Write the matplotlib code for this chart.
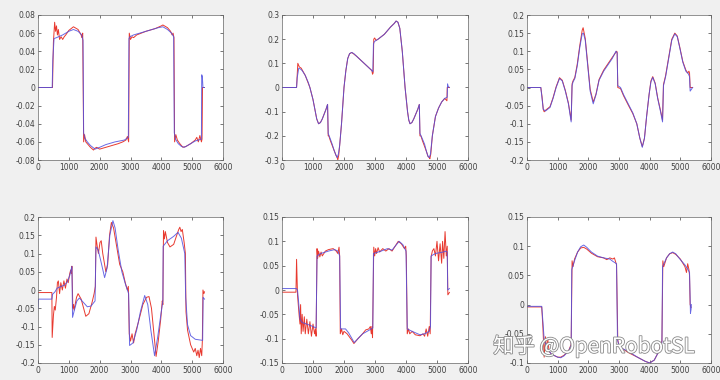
import numpy as np
import matplotlib
matplotlib.use("Agg")
import matplotlib.pyplot as plt
import matplotlib.patheffects as pe
from matplotlib.ticker import FuncFormatter

# --- subplot 1 ---
P1_XB = [0, 460, 480, 520, 600, 800, 1000, 1150, 1300, 1420, 1460, 1480, 1520, 1600, 1700, 1850, 2000, 2200,
         2500, 2800, 2930, 2950, 2980, 3100, 3300, 3600, 3900, 4050, 4200, 4330, 4400, 4420, 4460, 4550, 4650,
         4750, 4900, 5100, 5300, 5310, 5330, 5350, 5400]
P1_YB = [0, 0, 0.03, 0.054, 0.055, 0.058, 0.062, 0.064, 0.062, 0.058, 0.052, -0.05, -0.056, -0.06, -0.064,
         -0.068, -0.066, -0.063, -0.06, -0.058, -0.055, 0.054, 0.056, 0.058, 0.06, 0.063, 0.066, 0.067, 0.064,
         0.06, 0.056, -0.05, -0.057, -0.062, -0.065, -0.066, -0.063, -0.059, -0.057, 0.014, 0.012, 0.0, 0.0]
P1_XR = [0, 470, 500, 540, 570, 600, 630, 660, 700, 750, 800, 850, 900, 1000, 1150, 1300, 1400, 1420, 1450,
         1480, 1510, 1550, 1600, 1700, 1800, 1850, 1900, 2000, 2200, 2400, 2600, 2750, 2850, 2900, 2940, 2960,
         3000, 3050, 3100, 3200, 3500, 3800, 4000, 4050, 4200, 4300, 4350, 4380, 4410, 4430, 4470, 4520, 4600,
         4700, 4800, 4950, 5100, 5150, 5200, 5250, 5300, 5320, 5335, 5400]
P1_YR = [0, 0, 0.05, 0.072, 0.062, 0.068, 0.058, 0.064, 0.053, 0.056, 0.053, 0.056, 0.058, 0.063, 0.067,
         0.064, 0.058, 0.055, 0.06, -0.06, -0.052, -0.06, -0.062, -0.066, -0.069, -0.067, -0.066, -0.068,
         -0.066, -0.064, -0.062, -0.06, -0.058, -0.054, -0.06, 0.06, 0.053, 0.056, 0.055, 0.058, 0.062, 0.065,
         0.068, 0.069, 0.066, 0.062, 0.058, 0.06, 0.055, -0.06, -0.052, -0.058, -0.062, -0.066, -0.065, -0.062,
         -0.058, -0.055, -0.06, -0.053, -0.06, -0.057, 0.0, 0.0]

# --- subplot 2 ---
P2_XB = [0, 470, 490, 540, 600, 650, 750, 850, 900, 1000, 1060, 1120, 1180, 1240, 1300, 1420, 1470, 1490,
         1550, 1620, 1680, 1740, 1780, 1820, 1860, 1920, 2000, 2060, 2120, 2180, 2250, 2320, 2400, 2650, 2900,
         2930, 2950, 2980, 3100, 3300, 3500, 3620, 3680, 3740, 3800, 3880, 3970, 4050, 4090, 4130, 4190, 4250,
         4380, 4430, 4450, 4520, 4600, 4660, 4710, 4750, 4790, 4850, 4950, 5050, 5150, 5250, 5330, 5340, 5360,
         5400]
P2_YB = [0, 0, 0.04, 0.08, 0.076, 0.07, 0.05, 0.02, 0.0, -0.05, -0.09, -0.13, -0.15, -0.145, -0.13, -0.09,
         -0.07, -0.19, -0.21, -0.235, -0.26, -0.28, -0.29, -0.275, -0.24, -0.15, 0.0, 0.07, 0.12, 0.14, 0.145,
         0.14, 0.13, 0.1, 0.07, 0.065, 0.18, 0.19, 0.2, 0.22, 0.25, 0.265, 0.275, 0.27, 0.245, 0.15, 0.0, -0.1,
         -0.135, -0.15, -0.145, -0.13, -0.09, -0.07, -0.19, -0.21, -0.235, -0.265, -0.285, -0.29, -0.275,
         -0.2, -0.12, -0.085, -0.06, -0.045, -0.04, 0.015, 0.005, 0.0]
P2_XR = [0, 470, 490, 510, 560, 620, 750, 900, 1000, 1060, 1120, 1180, 1240, 1300, 1420, 1470, 1490, 1510,
         1560, 1680, 1740, 1780, 1800, 1830, 1860, 1920, 2000, 2060, 2120, 2180, 2250, 2400, 2650, 2900, 2920,
         2940, 2960, 2990, 3030, 3100, 3300, 3500, 3620, 3680, 3740, 3800, 3880, 3970, 4050, 4090, 4130, 4190,
         4250, 4380, 4430, 4450, 4480, 4530, 4660, 4710, 4750, 4770, 4800, 4850, 4950, 5050, 5150, 5250, 5320,
         5330, 5350, 5400]
P2_YR = [0, 0, 0.05, 0.1, 0.085, 0.08, 0.05, 0.0, -0.05, -0.09, -0.13, -0.15, -0.145, -0.13, -0.09, -0.07,
         -0.2, -0.2, -0.22, -0.26, -0.28, -0.29, -0.3, -0.28, -0.24, -0.15, 0.0, 0.07, 0.12, 0.14, 0.145, 0.13,
         0.1, 0.07, 0.055, 0.06, 0.2, 0.205, 0.195, 0.2, 0.22, 0.25, 0.265, 0.275, 0.27, 0.245, 0.15, 0.0,
         -0.1, -0.135, -0.15, -0.145, -0.13, -0.09, -0.07, -0.2, -0.2, -0.22, -0.265, -0.285, -0.29, -0.295,
         -0.275, -0.2, -0.12, -0.085, -0.06, -0.045, -0.055, 0.0, 0.0, 0.0]

# --- subplot 3 ---
P3_XB = [0, 450, 490, 530, 600, 750, 850, 950, 1060, 1150, 1250, 1350, 1440, 1470, 1500, 1560, 1640, 1720,
         1800, 1840, 1900, 1980, 2060, 2160, 2250, 2350, 2500, 2620, 2780, 2900, 2940, 2960, 3050, 3150, 3300,
         3450, 3580, 3680, 3760, 3830, 3900, 3980, 4040, 4100, 4180, 4260, 4350, 4420, 4450, 4520, 4620, 4720,
         4820, 4900, 4980, 5080, 5180, 5260, 5300, 5320, 5360, 5400]
P3_YB = [0, 0, -0.03, -0.06, -0.065, -0.055, -0.03, 0.0, 0.025, 0.018, -0.01, -0.045, -0.095, 0.005, 0.015,
         0.025, 0.06, 0.11, 0.148, 0.15, 0.13, 0.06, -0.01, -0.045, -0.02, 0.02, 0.045, 0.06, 0.08, 0.1, 0.095,
         0.005, 0.0, -0.02, -0.045, -0.07, -0.1, -0.14, -0.165, -0.14, -0.08, -0.02, 0.015, 0.028, 0.01, -0.03,
         -0.065, -0.095, 0.005, 0.03, 0.08, 0.13, 0.148, 0.14, 0.11, 0.07, 0.045, 0.038, 0.03, -0.01, -0.005, 0.0]
P3_XR = [0, 450, 490, 530, 560, 600, 750, 850, 950, 1060, 1150, 1250, 1350, 1440, 1470, 1500, 1560, 1640,
         1720, 1800, 1830, 1900, 1980, 2060, 2160, 2250, 2350, 2500, 2620, 2780, 2880, 2920, 2940, 2960, 3050,
         3150, 3300, 3450, 3580, 3680, 3760, 3830, 3900, 3980, 4040, 4100, 4180, 4260, 4350, 4420, 4450, 4520,
         4620, 4720, 4820, 4900, 4980, 5080, 5180, 5240, 5280, 5300, 5320, 5360, 5400]
P3_YR = [0, 0, -0.025, -0.06, -0.067, -0.063, -0.053, -0.028, 0.002, 0.027, 0.02, -0.008, -0.043, -0.09,
         0.01, 0.018, 0.028, 0.065, 0.115, 0.158, 0.165, 0.135, 0.065, -0.005, -0.04, -0.018, 0.022, 0.048, 0.063,
         0.083, 0.095, 0.1, 0.098, 0.0, -0.003, -0.023, -0.048, -0.072, -0.1, -0.14, -0.163, -0.14, -0.08, -0.02,
         0.018, 0.03, 0.012, -0.028, -0.062, -0.09, 0.008, 0.033, 0.083, 0.133, 0.15, 0.142, 0.112, 0.072, 0.048,
         0.04, 0.045, 0.04, 0.0, 0.0, 0.0]

# --- subplot 4 ---
P4_XB = [0, 15, 450, 470, 550, 620, 700, 850, 950, 1030, 1100, 1120, 1180, 1260, 1340, 1450, 1600, 1720, 1850,
         1880, 1950, 2050, 2160, 2240, 2330, 2430, 2500, 2600, 2720, 2850, 2940, 2970, 3080, 3200, 3320, 3460,
         3560, 3660, 3780, 3880, 3980, 4050, 4060, 4200, 4400, 4540, 4650, 4760, 4790, 4850, 4950, 5100, 5340,
         5355, 5400]
P4_YB = [-0.05, -0.025, -0.025, -0.012, -0.005, 0.005, 0.008, 0.013, 0.022, 0.04, 0.065, -0.075, -0.055,
         -0.03, -0.022, -0.032, -0.046, -0.044, -0.03, 0.118, 0.11, 0.075, 0.034, 0.06, 0.15, 0.19, 0.17, 0.11,
         0.05, 0.012, -0.01, -0.152, -0.145, -0.11, -0.06, -0.015, -0.04, -0.11, -0.18, -0.13, -0.07, -0.03,
         0.12, 0.135, 0.147, 0.158, 0.142, 0.1, -0.02, -0.095, -0.125, -0.135, -0.138, -0.02, -0.025]
P4_XR = [0, 450, 460, 500, 530, 560, 600, 630, 660, 700, 740, 790, 840, 890, 940, 980, 1030, 1060, 1080, 1100,
         1130, 1150, 1170, 1250, 1300, 1400, 1480, 1550, 1650, 1750, 1820, 1860, 1880, 1920, 1960, 2010, 2050,
         2100, 2200, 2260, 2320, 2380, 2450, 2550, 2650, 2750, 2830, 2900, 2930, 2960, 3000, 3050, 3100, 3150,
         3250, 3400, 3520, 3600, 3680, 3760, 3830, 3900, 3980, 4030, 4050, 4070, 4100, 4130, 4200, 4280, 4400,
         4500, 4560, 4600, 4640, 4680, 4740, 4780, 4800, 4850, 4900, 4950, 5000, 5050, 5100, 5150, 5190, 5230,
         5270, 5310, 5330, 5350, 5380, 5400]
P4_YR = [-0.007, -0.007, -0.13, -0.07, -0.045, -0.055, -0.02, 0.02, 0.025, -0.01, 0.02, 0.0, 0.025, 0.005,
         0.03, 0.02, 0.045, 0.055, 0.045, 0.065, -0.05, -0.04, -0.055, -0.02, -0.01, -0.025, -0.05, -0.072,
         -0.065, -0.035, -0.01, 0.01, 0.145, 0.12, 0.1, 0.13, 0.135, 0.1, 0.05, 0.07, 0.15, 0.185, 0.17, 0.12,
         0.07, 0.05, 0.02, 0.0, 0.01, -0.12, -0.14, -0.12, -0.145, -0.12, -0.09, -0.04, -0.02, -0.018, -0.05,
         -0.12, -0.182, -0.14, -0.08, -0.03, -0.04, 0.163, 0.14, 0.16, 0.13, 0.118, 0.125, 0.15, 0.165, 0.172,
         0.16, 0.166, 0.13, 0.1, -0.06, -0.11, -0.13, -0.15, -0.16, -0.17, -0.16, -0.18, -0.165, -0.185, -0.16,
         -0.18, -0.14, 0.0, -0.01, -0.005]

# --- subplot 5 ---
P5_XB = [0, 460, 500, 530, 580, 650, 800, 1000, 1100, 1130, 1250, 1500, 1700, 1800, 1860, 1890, 2050, 2150,
         2330, 2450, 2600, 2800, 2930, 2950, 3200, 3400, 3550, 3650, 3780, 3900, 4000, 4040, 4200, 4450, 4600,
         4750, 4790, 4810, 4950, 5200, 5300, 5330, 5345, 5400]
P5_YB = [0.003, 0.003, 0.0, -0.02, -0.06, -0.067, -0.07, -0.075, -0.078, 0.07, 0.075, 0.08, 0.083, 0.08,
         0.07, -0.08, -0.08, -0.088, -0.108, -0.1, -0.09, -0.083, -0.078, 0.075, 0.08, 0.085, 0.082, 0.09, 0.1,
         0.093, 0.08, -0.08, -0.085, -0.092, -0.09, -0.085, -0.075, 0.07, 0.075, 0.078, 0.08, 0.078, 0.0, 0.003]
P5_XR = [0, 450, 470, 500, 550, 580, 600, 620, 650, 680, 720, 750, 800, 850, 900, 950, 1000, 1050, 1080, 1100,
         1130, 1150, 1180, 1220, 1260, 1300, 1400, 1500, 1650, 1750, 1800, 1840, 1860, 1880, 1920, 1960, 2000,
         2100, 2250, 2320, 2450, 2600, 2700, 2800, 2850, 2880, 2900, 2920, 2960, 2990, 3020, 3050, 3100, 3150,
         3250, 3350, 3450, 3550, 3650, 3750, 3850, 3950, 3990, 4010, 4040, 4080, 4120, 4200, 4300, 4450, 4550,
         4600, 4650, 4700, 4750, 4780, 4810, 4850, 4900, 4950, 5000, 5050, 5100, 5150, 5180, 5220, 5260, 5300,
         5330, 5350, 5400]
P5_YR = [-0.0045, -0.0045, 0.063, -0.01, -0.05, -0.07, -0.03, -0.09, -0.05, -0.085, -0.055, -0.09, -0.06,
         -0.09, -0.065, -0.095, -0.07, -0.09, -0.08, -0.095, 0.085, 0.065, 0.08, 0.068, 0.078, 0.07, 0.08,
         0.083, 0.085, 0.08, 0.075, 0.088, 0.07, -0.09, -0.08, -0.092, -0.085, -0.09, -0.103, -0.11, -0.1,
         -0.09, -0.082, -0.08, -0.075, -0.09, -0.075, -0.098, 0.088, 0.07, 0.085, 0.075, 0.087, 0.078, 0.085,
         0.08, 0.085, 0.08, 0.09, 0.1, 0.095, 0.085, 0.09, 0.07, -0.09, -0.08, -0.09, -0.085, -0.092, -0.094,
         -0.09, -0.095, -0.08, -0.095, -0.075, -0.09, 0.068, 0.08, 0.085, 0.07, 0.1, 0.06, 0.095, 0.055, 0.1,
         0.065, 0.12, 0.07, 0.09, -0.01, -0.005]

# --- subplot 6 ---
P6_XB = [0, 480, 520, 560, 650, 800, 1000, 1100, 1200, 1350, 1440, 1460, 1550, 1650, 1750, 1850, 1950, 2100,
         2300, 2500, 2700, 2800, 2920, 2950, 3000, 3100, 3300, 3600, 3850, 4000, 4150, 4300, 4400, 4420, 4550,
         4650, 4750, 4850, 5000, 5150, 5250, 5300, 5330, 5350, 5360]
P6_YB = [-0.003, -0.003, -0.03, -0.06, -0.075, -0.085, -0.09, -0.091, -0.088, -0.08, -0.07, 0.06, 0.075,
         0.09, 0.099, 0.102, 0.098, 0.09, 0.083, 0.08, 0.078, 0.074, 0.07, -0.06, -0.07, -0.075, -0.08, -0.09,
         -0.097, -0.1, -0.095, -0.08, -0.065, 0.065, 0.08, 0.087, 0.09, 0.087, 0.077, 0.068, 0.06, 0.055,
         -0.015, -0.008, 0.0]
P6_XR = [0, 480, 520, 560, 600, 640, 680, 720, 800, 1000, 1100, 1200, 1350, 1440, 1470, 1500, 1550, 1650,
         1750, 1850, 1950, 2100, 2300, 2500, 2600, 2700, 2800, 2850, 2920, 2960, 3000, 3100, 3300, 3600, 3850,
         4000, 4150, 4300, 4400, 4430, 4460, 4550, 4650, 4750, 4850, 5000, 5150, 5200, 5240, 5280, 5300, 5320,
         5350]
P6_YR = [-0.004, -0.004, -0.04, -0.09, -0.055, -0.075, -0.06, -0.08, -0.085, -0.09, -0.09, -0.087, -0.08,
         -0.068, 0.075, 0.065, 0.078, 0.09, 0.097, 0.098, 0.095, 0.088, 0.082, 0.08, 0.077, 0.08, 0.078, 0.08,
         0.068, -0.06, -0.072, -0.075, -0.082, -0.09, -0.097, -0.1, -0.095, -0.08, -0.062, 0.075, 0.065, 0.08,
         0.087, 0.089, 0.086, 0.078, 0.065, 0.055, 0.07, 0.06, 0.05, 0.0, -0.005]

YLIMS = [(-0.08, 0.08), (-0.3, 0.3), (-0.2, 0.2), (-0.2, 0.2), (-0.15, 0.15), (-0.1, 0.15)]
YSTEPS = [0.02, 0.1, 0.05, 0.05, 0.05, 0.05]

series = [
    (P1_XB, P1_YB, P1_XR, P1_YR), (P2_XB, P2_YB, P2_XR, P2_YR), (P3_XB, P3_YB, P3_XR, P3_YR),
    (P4_XB, P4_YB, P4_XR, P4_YR), (P5_XB, P5_YB, P5_XR, P5_YR), (P6_XB, P6_YB, P6_XR, P6_YR),
]

# axes boxes in pixels (left, top, right, bottom), MATLAB-like grid
lefts = [38, 282, 527]
rights = [223, 468, 711]
tops = [15, 217]
bottoms = [160, 363]

fig = plt.figure(figsize=(7.2, 3.8), dpi=100, facecolor="#f0f0f0")

def fmt(v, pos):
    s = "%g" % round(v, 4)
    return "0" if s in ("-0", "0") else s

for i, (xb, yb, xr, yr) in enumerate(series):
    r, c = divmod(i, 3)
    l, rt, t, b = lefts[c], rights[c], tops[r], bottoms[r]
    ax = fig.add_axes([l / 720, 1 - b / 380, (rt - l) / 720, (b - t) / 380])
    ax.plot(xr, yr, color="#e8392f", lw=0.7)
    ax.plot(xb, yb, color="#4f4fe0", lw=0.7, alpha=0.85)
    ax.set_xlim(0, 6000)
    ax.set_ylim(*YLIMS[i])
    ax.set_xticks(np.arange(0, 6001, 1000))
    lo, hi = YLIMS[i]
    ax.set_yticks(np.arange(lo, hi + YSTEPS[i] / 2, YSTEPS[i]))
    ax.yaxis.set_major_formatter(FuncFormatter(fmt))
    ax.tick_params(direction="in", length=2, width=0.5, top=True, right=True,
                   labelsize=5.5, colors="#404040", pad=2)
    for sp in ax.spines.values():
        sp.set_color("#666666")
        sp.set_linewidth(0.5)

# watermark
fig.text(0.685, 0.088, "知乎 @OpenRobotSL", fontsize=15, color="white",
         family=["Noto Sans CJK SC", "DejaVu Sans"], ha="left", va="center",
         path_effects=[pe.withStroke(linewidth=1.2, foreground="#8a8a8a")])

fig.savefig("out.png", dpi=100, facecolor=fig.get_facecolor())
